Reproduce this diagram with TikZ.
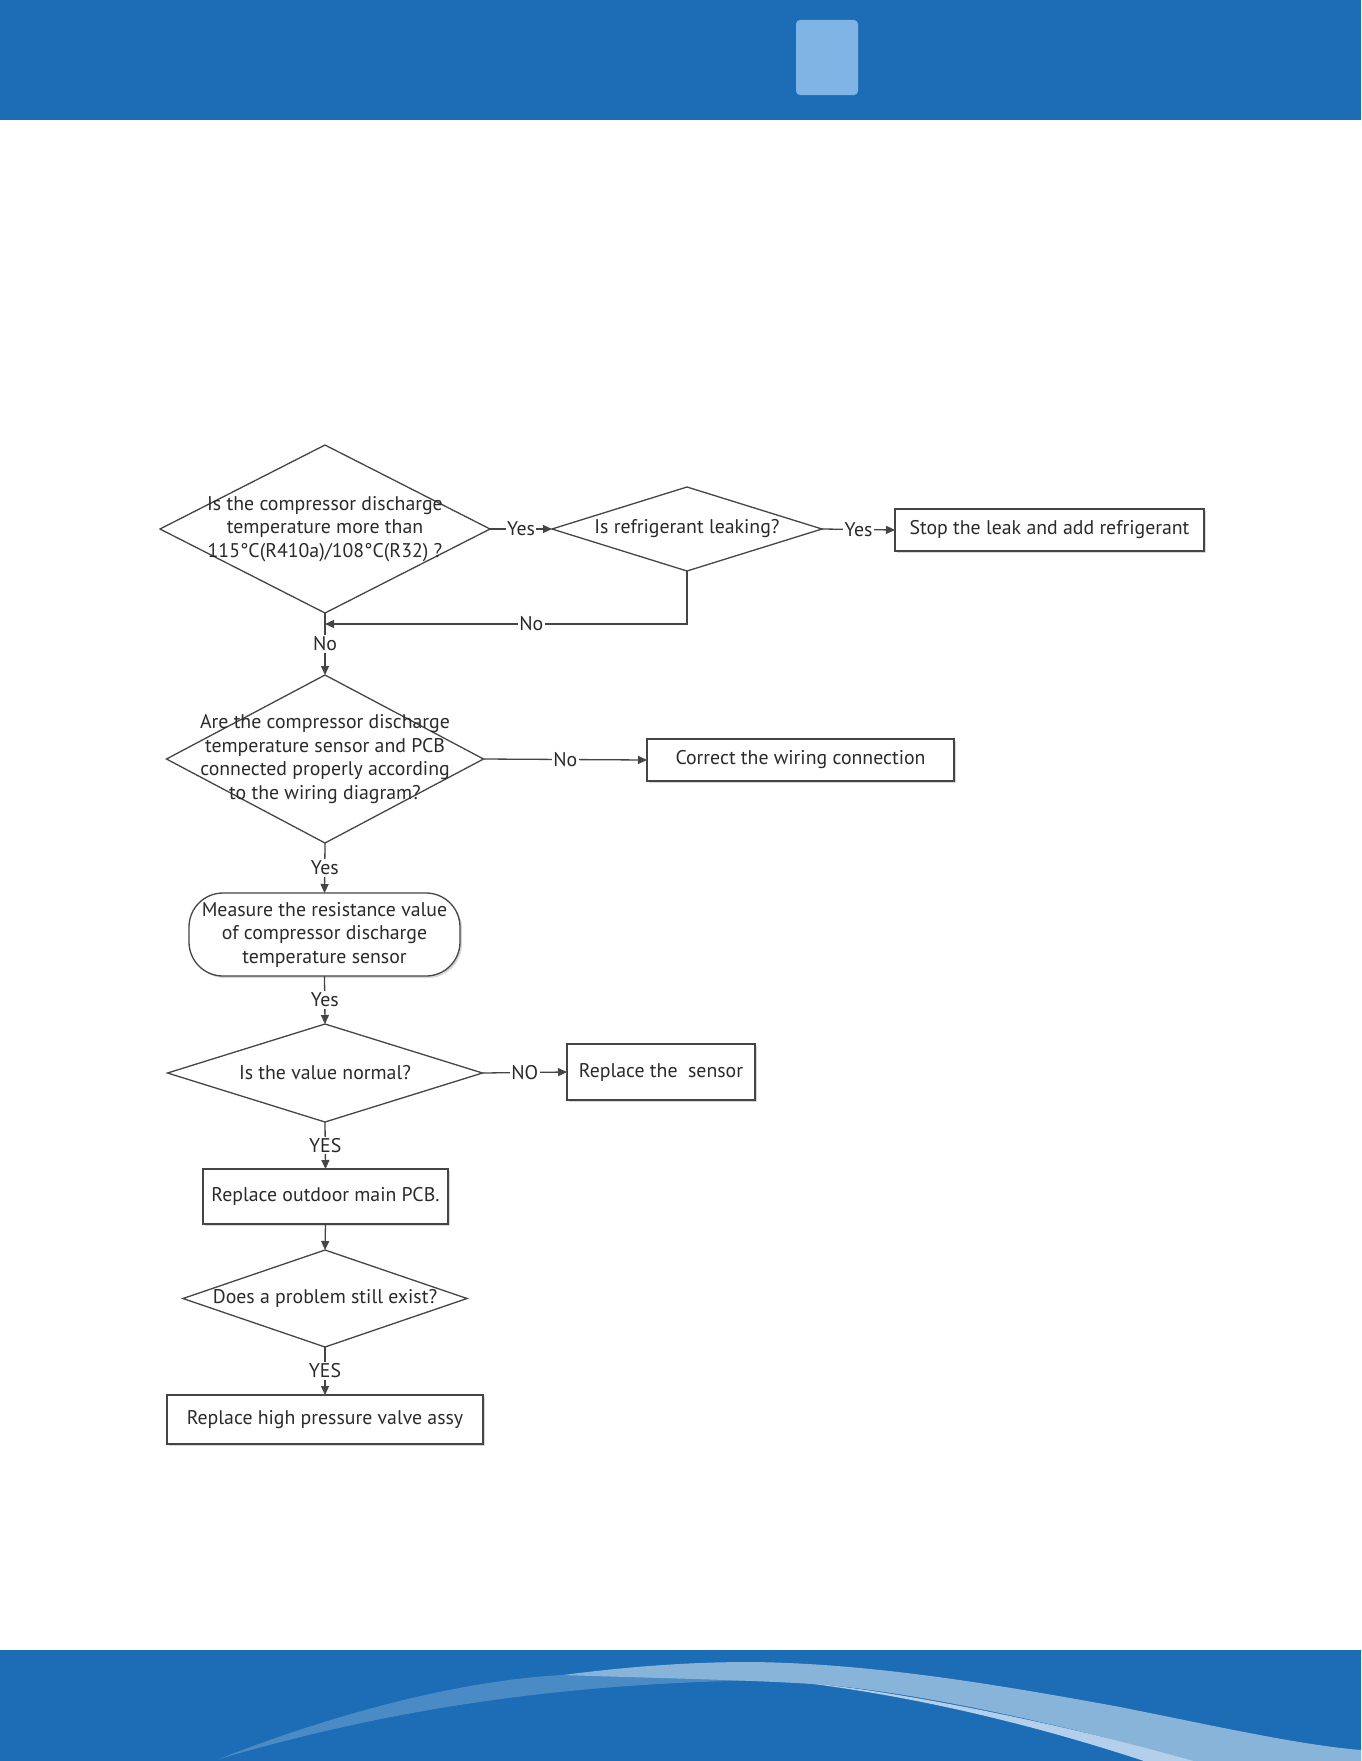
\documentclass[tikz,border=0pt]{standalone}
\usepackage{fontspec}
\setmainfont{PT Sans}
\usetikzlibrary{shapes.geometric,arrows.meta,shadows}
\definecolor{hdr}{HTML}{1C6DB5}
\definecolor{hdrlight}{HTML}{80B4E4}
\definecolor{wavemid}{HTML}{4A8BC6}
\definecolor{wavelight}{HTML}{88B4DA}
\definecolor{wavepale}{HTML}{B3CFE9}
\definecolor{linec}{HTML}{454545}
\definecolor{txtc}{HTML}{2A2A2A}
\begin{document}
\begin{tikzpicture}[x=1pt,y=-1pt,
  every node/.style={font=\fontsize{19.8}{23.5}\selectfont, text=txtc},
  dia/.style={diamond, draw=linec, line width=1.3pt, inner sep=0pt, outer sep=0pt},
  box/.style={rectangle, draw=linec, line width=1.3pt, fill=white, inner sep=0pt, outer sep=0pt,
    drop shadow={shadow xshift=2pt, shadow yshift=-2pt, fill=black!30, opacity=.5}},
  arr/.style={draw=linec, line width=1.3pt, -{Triangle[length=9pt,width=8pt]}},
  lbl/.style={fill=white, inner sep=1.5pt},
  txt/.style={align=center}
]
\useasboundingbox (0,0) rectangle (1361,1761);
\fill[white] (0,0) rectangle (1361,1761);
% header
\fill[hdr] (0,0) rectangle (1361,120);
\fill[hdrlight, rounded corners=4pt] (796,20) rectangle (858,95);
% footer
\fill[hdr] (0,1650) rectangle (1361,1761);
\fill[wavemid] (219,1759) .. controls (330,1715) and (460,1680) .. (563,1675)
  -- (750,1668) -- (780,1680) .. controls (600,1682) and (420,1700) .. (219,1759) -- cycle;
\fill[wavepale] (780,1680) .. controls (900,1690) and (1050,1722) .. (1200,1761)
  -- (1144,1761) .. controls (1050,1730) and (920,1695) .. (780,1680) -- cycle;
\fill[wavelight] (563,1675) .. controls (640,1665) and (700,1662) .. (750,1662)
  .. controls (870,1663) and (1000,1685) .. (1120,1707)
  .. controls (1220,1727) and (1300,1745) .. (1361,1750)
  -- (1361,1761) -- (1194,1761)
  .. controls (1100,1735) and (950,1697) .. (828,1685)
  .. controls (760,1680) and (650,1678) .. (563,1675) -- cycle;

% nodes
\node[dia, minimum width=330, minimum height=168,
  label={[txt]center:{Is the compressor discharge\\temperature more than\\115°C(R410a)/108°C(R32) ?}}] (d1) at (325,529) {};
\node[dia, minimum width=270, minimum height=84,
  label={[txt]center:{Is refrigerant leaking?}}] (d2) at (687,529) {};
\node[box, minimum width=309, minimum height=42] (s1) at (1049.5,530) {Stop the leak and add refrigerant};
\node[dia, minimum width=317, minimum height=168,
  label={[txt]center:{Are the compressor discharge\\temperature sensor and PCB\\connected properly according\\to the wiring diagram?}}] (d3) at (325,759) {};
\node[box, minimum width=307, minimum height=42] (s2) at (800.5,760) {Correct the wiring connection};
\node[box, rounded corners=34pt, minimum width=271, minimum height=83, txt] (m) at (324.5,934.5)
  {Measure the resistance value\\of compressor discharge\\temperature sensor};
\node[dia, minimum width=315, minimum height=98,
  label={[txt]center:{Is the value normal?}}] (d4) at (325,1073) {};
\node[box, minimum width=188, minimum height=56] (s3) at (661,1072) {Replace the\ \ sensor};
\node[box, minimum width=245, minimum height=55] (p) at (325.5,1196.5) {Replace outdoor main PCB.};
\node[dia, minimum width=284, minimum height=97,
  label={[txt]center:{Does a problem still exist?}}] (d5) at (325,1298.5) {};
\node[box, minimum width=316, minimum height=49] (v) at (325,1419.5) {Replace high pressure valve assy};
\coordinate (j) at (325,624);

% connectors
\draw[arr] (d1.east) -- node[lbl]{Yes} (d2.west);
\draw[arr] (d2.east) -- node[lbl]{Yes} (s1.west);
\draw[arr] (d2.south) |- node[lbl,pos=0.715]{No} (j);
\draw[arr] (d1.south) -- node[lbl]{No} (d3.north);
\draw[arr] (d3.east) -- node[lbl]{No} (s2.west);
\draw[arr] (d3.south) -- node[lbl]{Yes} (m.north);
\draw[arr] (m.south) -- node[lbl]{Yes} (d4.north);
\draw[arr] (d4.east) -- node[lbl]{NO} (s3.west);
\draw[arr] (d4.south) -- node[lbl]{YES} (p.north);
\draw[arr] (p.south) -- (d5.north);
\draw[arr] (d5.south) -- node[lbl]{YES} (v.north);
\end{tikzpicture}
\end{document}
